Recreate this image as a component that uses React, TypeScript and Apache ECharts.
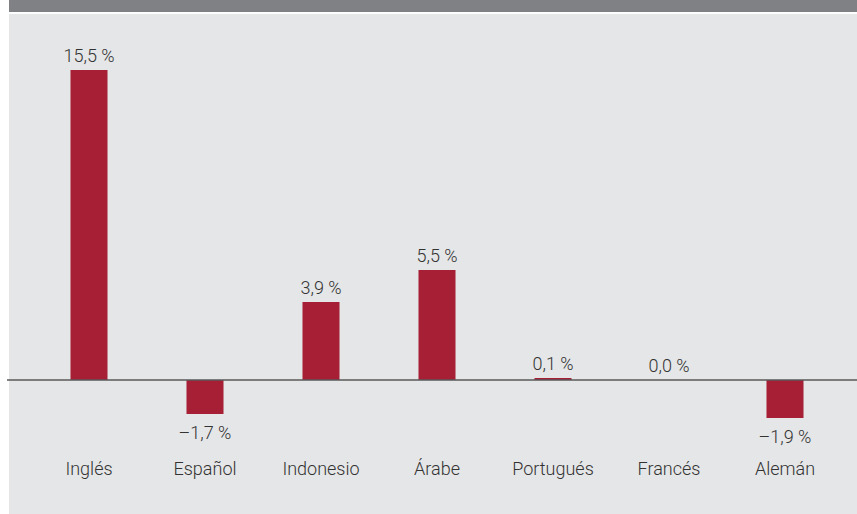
import React, { useEffect, useRef } from "react";
import * as echarts from "echarts";

const categories = ["Inglés", "Español", "Indonesio", "Árabe", "Portugués", "Francés", "Alemán"];
const values = [15.5, -1.7, 3.9, 5.5, 0.1, 0.0, -1.9];

const BAR = "#a61f35";
const TEXT = "#333333";
const FONT = "Roboto, 'Liberation Sans', Arial, sans-serif";
const WEIGHT = 300;
const SIZE = 18;

function fmt(v: number): string {
  const s = Math.abs(v).toFixed(1).replace(".", ",");
  return (v < 0 ? "\u2013" : "") + s + " %";
}

export default function App() {
  const ref = useRef<HTMLDivElement>(null);
  useEffect(() => {
    if (!ref.current) return;
    const chart = echarts.init(ref.current, undefined, { renderer: "svg" });
    const bg = [
      { type: "rect", z: -10, shape: { x: 9, y: 0, width: 848, height: 12 }, style: { fill: "#808184" } },
      { type: "rect", z: -10, shape: { x: 9, y: 14, width: 848, height: 500 }, style: { fill: "#e5e6e7" } },
    ];
    chart.setOption({
      animation: false,
      backgroundColor: "#ffffff",
      textStyle: { fontFamily: FONT },
      grid: { left: 31, right: 14, top: 60, bottom: 64 },
      xAxis: {
        type: "category",
        data: categories,
        position: "bottom",
        axisLine: { show: false, onZero: false },
        axisTick: { show: false },
        axisLabel: { color: TEXT, fontSize: SIZE, fontFamily: FONT, fontWeight: WEIGHT, margin: 9 },
      },
      yAxis: {
        type: "value",
        min: -3.5,
        max: 16,
        show: false,
        splitLine: { show: false },
      },
      graphic: bg,
      series: [
        {
          type: "bar",
          barWidth: 37,
          itemStyle: { color: BAR },
          data: values.map((v) => ({
            value: v,
            label: {
              show: true,
              position: v < 0 ? "bottom" : "top",
              distance: v < 0 ? 9 : 6,
              color: TEXT,
              fontSize: SIZE,
              fontFamily: FONT,
              fontWeight: WEIGHT,
              formatter: () => fmt(v),
            },
          })),
        },
      ],
    });
    const y0 = chart.convertToPixel({ yAxisIndex: 0 }, 0) as number;
    chart.setOption({
      graphic: [
        ...bg,
        { type: "line", z: 5, shape: { x1: 7, y1: y0, x2: 857, y2: y0 }, style: { stroke: "#58585a", lineWidth: 1.5 } },
      ],
    });
    return () => chart.dispose();
  }, []);
  return (
    <div
      ref={ref}
      style={{ position: "absolute", left: 0, top: 0, width: 857, height: 514 }}
    />
  );
}
